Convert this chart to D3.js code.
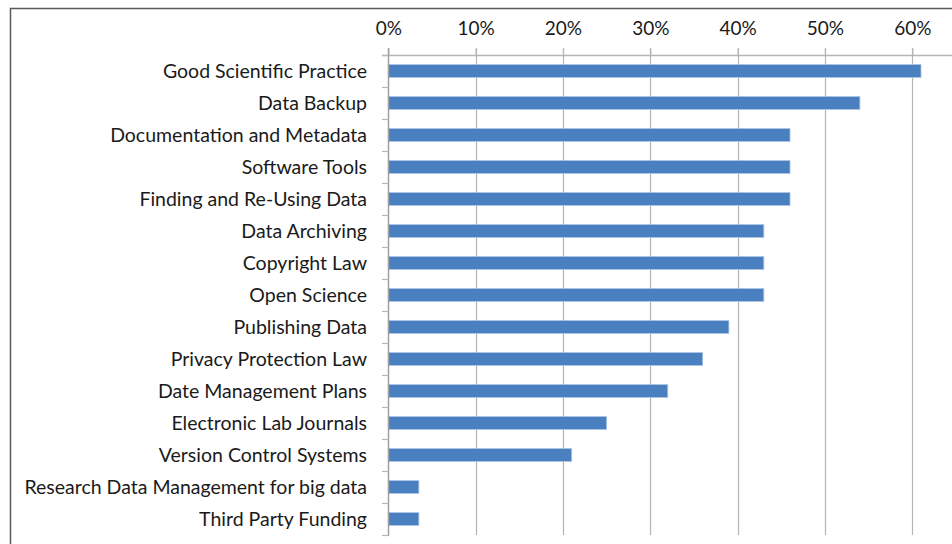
<!DOCTYPE html>
<html><head><meta charset="utf-8">
<script src="https://cdn.jsdelivr.net/npm/d3@7"></script>
<style>
html,body{margin:0;padding:0;background:#fff;}
svg{display:block;}
text{font-family:Lato,"Open Sans",sans-serif;fill:#1a1a1a;}
</style></head>
<body><svg id="chart" width="952" height="544"></svg>
<script>
const categories = ["Good Scientific Practice","Data Backup","Documentation and Metadata","Software Tools","Finding and Re-Using Data","Data Archiving","Copyright Law","Open Science","Publishing Data","Privacy Protection Law","Date Management Plans","Electronic Lab Journals","Version Control Systems","Research Data Management for big data","Third Party Funding"];
const values = [0.61,0.54,0.46,0.46,0.46,0.43,0.43,0.43,0.39,0.36,0.32,0.25,0.21,0.035,0.035];
const tickValues = [0,0.1,0.2,0.3,0.4,0.5,0.6];

const svg = d3.select("#chart");
const x = d3.scaleLinear().domain([0,0.7]).range([388.3, 999.6]);
const y = d3.scaleBand().domain(categories).range([55,535]).paddingInner(0.6).paddingOuter(0.3);

// outer frame
svg.append("path").attr("d","M10.5,544 L10.5,8.5 L952,8.5").attr("fill","none").attr("stroke","#5a5a5a").attr("stroke-width",1.5);

// gridlines
svg.append("g").selectAll("line").data(tickValues.slice(1)).join("line")
  .attr("x1",d=>Math.round(x(d))+0.5).attr("x2",d=>Math.round(x(d))+0.5)
  .attr("y1",48).attr("y2",535).attr("stroke","#b5b5b5").attr("stroke-width",1.2);

// x axis (top)
const xAxis = d3.axisTop(x).tickValues(tickValues).tickFormat(d3.format(".0%")).tickSize(7).tickPadding(14);
const gx = svg.append("g").attr("transform","translate(0,55.5)").call(xAxis);
gx.select(".domain").attr("d","M382,0H952").attr("stroke","#b5b5b5").attr("stroke-width",1.5);
gx.selectAll(".tick line").attr("stroke","#b5b5b5").attr("stroke-width",1.2);
gx.selectAll(".tick text").attr("font-size",19).attr("font-family","Lato").attr("fill","#1a1a1a");

// bars
svg.append("g").selectAll("rect").data(values).join("rect")
  .attr("x",x(0)).attr("y",(d,i)=>y(categories[i]))
  .attr("width",d=>x(d)-x(0)).attr("height",y.bandwidth())
  .attr("fill","#4a80bf").attr("stroke","#a8c3e3").attr("stroke-width",0.8);

// y axis
const yStep = y.step();
const bounds = d3.range(categories.length+1).map(i=>55+i*yStep);
const gy = svg.append("g");
gy.append("line").attr("x1",388.5).attr("x2",388.5).attr("y1",48).attr("y2",536).attr("stroke","#a0a0a0").attr("stroke-width",1.5);
gy.selectAll("line.t").data(bounds).join("line").attr("class","t")
  .attr("x1",382).attr("x2",388.5).attr("y1",d=>d+0.5).attr("y2",d=>d+0.5)
  .attr("stroke","#b5b5b5").attr("stroke-width",1.2);
gy.selectAll("text").data(categories).join("text")
  .attr("x",367).attr("y",d=>y(d)+y.bandwidth()/2).attr("dy","0.36em")
  .attr("text-anchor","end").attr("font-size",19.5).text(d=>d);
</script></body></html>
